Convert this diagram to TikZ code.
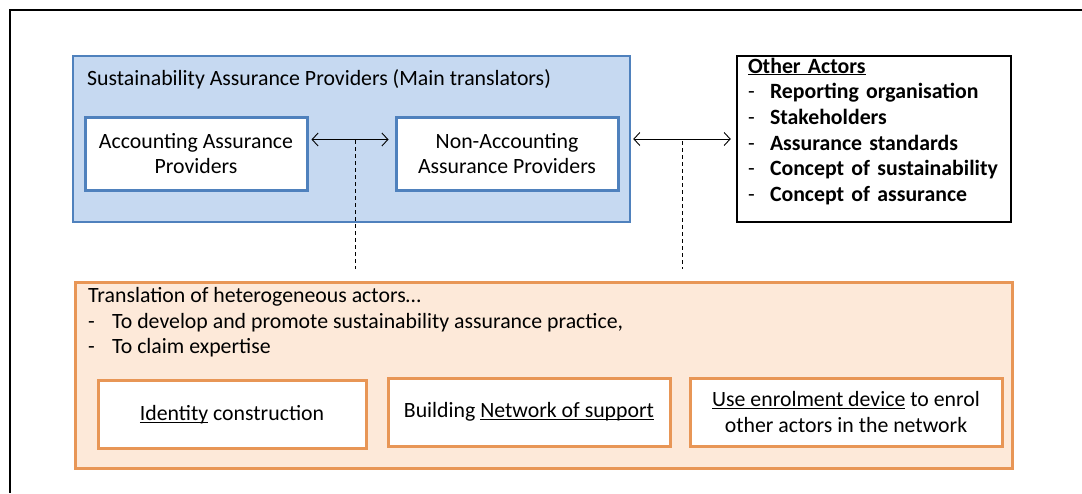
\documentclass[tikz,border=0pt]{standalone}
\usepackage{fontspec}
\setmainfont{Carlito}
\usetikzlibrary{arrows.meta}
\definecolor{sapblue}{RGB}{198,217,241}
\definecolor{sapedge}{RGB}{79,129,189}
\definecolor{transfill}{RGB}{253,233,217}
\definecolor{transedge}{RGB}{232,150,86}
\newcommand{\uln}[1]{\underline{\smash{#1}}}
\newcommand{\actoritem}[1]{\makebox[22pt][l]{-}\textbf{#1}}

\begin{document}
\begin{tikzpicture}[x=1pt, y=-1pt,
    every node/.style={font=\fontsize{21.8}{25.7}\selectfont},
    >={Straight Barb[length=6pt,width=13pt]},
    sapbox/.style={draw=sapedge, fill=white, line width=3pt, minimum width=222pt, minimum height=73pt, align=center},
    transbox/.style={draw=transedge, fill=white, line width=3pt, minimum height=68pt, align=center}]
    \useasboundingbox (0,0) rectangle (1082,493);
    \draw[line width=2.5pt] (1082,10) -- (10,10) -- (10,493);

    % assurance providers
    \node[draw=sapedge, fill=sapblue, line width=2.5pt, minimum width=557pt, minimum height=166pt] (sap) at (351.5,139) {};
    \node[anchor=base west, inner sep=0pt] (saptitle) at (87,85) {Sustainability Assurance Providers (Main translators)};
    \node[sapbox] (acc) at (196,153.5) {Accounting Assurance\\Providers};
    \node[sapbox] (nonacc) at (507,153.5) {Non-Accounting\\Assurance Providers};

    % other actors
    \node[draw, line width=2.5pt, minimum height=166pt, text width=252pt, inner xsep=11pt, align=left] (others) at (874,139)
        {\textbf{\uln{Other Actors}}\\
         \actoritem{Reporting organisation}\\
         \actoritem{Stakeholders}\\
         \actoritem{Assurance standards}\\
         \actoritem{Concept of sustainability}\\
         \actoritem{Concept of assurance}};

    \draw[<->, line width=0.9pt, shorten <=3pt, shorten >=6pt] ([yshift=14pt]acc.east) -- ([yshift=14pt]nonacc.west);
    \draw[<->, line width=0.9pt, shorten <=2pt, shorten >=5pt] (sap.east) -- (others.west);

    % translation
    \node[draw=transedge, fill=transfill, line width=3pt, minimum width=937pt, minimum height=186pt] (trans) at (543.5,375) {};
    \node[anchor=north west, inner sep=0pt, align=left] (transtext) at (88,287)
        {Translation of heterogeneous actors…\\
         \makebox[24pt][l]{-}To develop and promote sustainability assurance practice,\\
         \makebox[24pt][l]{-}To claim expertise};
    \node[transbox, minimum width=268pt] (ident) at (232,414) {\uln{Identity} construction};
    \node[transbox, minimum width=282pt] (network) at (529,412) {Building \uln{Network of support}};
    \node[transbox, minimum width=312pt] (enrol) at (846,412) {\uln{Use enrolment device} to enrol\\other actors in the network};

    % links down to the translation
    \coordinate (link1) at (355,140);
    \coordinate (link2) at (682,141);
    \draw[dash pattern=on 4pt off 3pt, line width=0.8pt, shorten >=12pt] (link1) -- (link1 |- trans.north);
    \draw[dash pattern=on 4pt off 3pt, line width=0.8pt, shorten >=12pt] (link2) -- (link2 |- trans.north);
\end{tikzpicture}
\end{document}
